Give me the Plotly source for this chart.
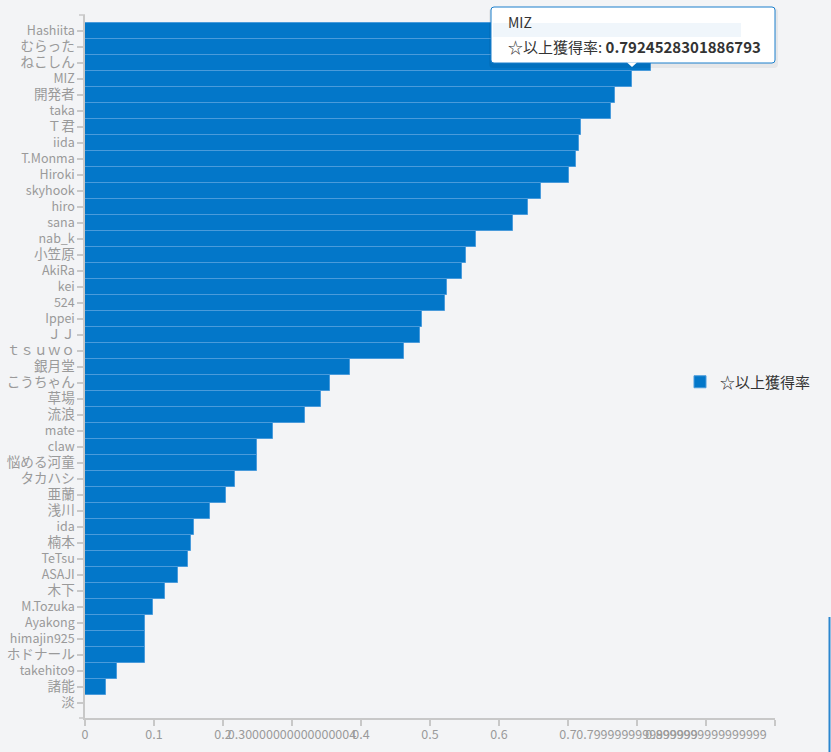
import re
import plotly.graph_objects as go

# ---- data ----
names = ["Hashiita", "むらった", "ねこしん", "MIZ", "開発者", "taka", "Ｔ君", "iida", "T.Monma", "Hiroki",
         "skyhook", "hiro", "sana", "nab_k", "小笠原", "AkiRa", "kei", "524", "Ippei", "ＪＪ",
         "ｔｓｕｗｏ", "銀月堂", "こうちゃん", "草場", "流浪", "mate", "claw", "悩める河童", "タカハシ", "亜蘭",
         "浅川", "ida", "楠本", "TeTsu", "ASAJI", "木下", "M.Tozuka", "Ayakong", "himajin925", "ホドナール",
         "takehito9", "諸能", "淡"]
rates = [0.951, 0.87, 0.82, 0.7924528301886793, 0.768, 0.763, 0.719, 0.7155, 0.7116, 0.701,
         0.6604, 0.6425, 0.6208, 0.5671, 0.5527, 0.546, 0.524, 0.522, 0.4884, 0.486,
         0.4619, 0.3845, 0.355, 0.3425, 0.3184, 0.2729, 0.2497, 0.2497, 0.2179, 0.2048,
         0.1816, 0.158, 0.1536, 0.1498, 0.1353, 0.116, 0.098, 0.0865, 0.0865, 0.0865,
         0.047, 0.031, 0.0]
series_name = "☆以上獲得率"
x_tick_vals = [0, 0.1, 0.2, 0.30000000000000004, 0.4, 0.5, 0.6, 0.7, 0.7999999999999999,
               0.8999999999999999, 0.9999999999999999]
x_tick_text = ["0", "0.1", "0.2", "0.30000000000000004", "0.4", "0.5", "0.6", "0.7",
               "0.7999999999999999", "0.8999999999999999", "0.9999999999999999"]
tooltip_name = "MIZ"
tooltip_value = "0.7924528301886793"

# ---- layout geometry (page pixels; body margin removed in the page) ----
W, H = 831, 752
L, R, T, B = 85, 775, 15, 718
PW, PH = R - L, B - T

def px(x):
    return (x - L) / PW

def py(y):
    return (B - y) / PH

FONT = "Noto Sans CJK JP, Source Sans Pro, sans-serif"
BG = "#f3f4f6"
BAR = "#0377c9"
BAR_LINE = "#4a9bdb"
AXIS = "#c8c8c8"
TICKFONT = "#9a9a9a"

# wide (CJK / full-width) labels render a bit larger in the reference
wide = re.compile(r"[\u3000-\u9fff\uff00-\uffef]")
y_tick_text = [f'<span style="font-size:13.6px">{s}</span>' if wide.search(s) else s for s in names]

n = len(names)
pad = 7.5 / 16.0

fig = go.Figure()
fig.add_trace(go.Bar(
    x=rates, y=names, orientation="h", name=series_name,
    marker=dict(color=BAR, line=dict(color=BAR_LINE, width=1)),
    showlegend=True, hoverinfo="skip",
))

shapes = []
# outer ticks of the y axis (top and bottom)
for yy in (T, B):
    shapes.append(dict(type="line", xref="paper", yref="paper",
                       x0=px(L - 6), x1=px(L), y0=py(yy), y1=py(yy),
                       line=dict(color=AXIS, width=1.5)))

def rrect(x0, y0, x1, y1, r):
    pts = (f"M {px(x0 + r)},{py(y0)} L {px(x1 - r)},{py(y0)} "
           f"Q {px(x1)},{py(y0)} {px(x1)},{py(y0 + r)} "
           f"L {px(x1)},{py(y1 - r)} Q {px(x1)},{py(y1)} {px(x1 - r)},{py(y1)} "
           f"L {px(x0 + r)},{py(y1)} Q {px(x0)},{py(y1)} {px(x0)},{py(y1 - r)} "
           f"L {px(x0)},{py(y0 + r)} Q {px(x0)},{py(y0)} {px(x0 + r)},{py(y0)} Z")
    return pts

# tooltip shadow
shapes.append(dict(type="path", xref="paper", yref="paper", layer="above",
                   path=rrect(489, 8, 778, 68, 4), fillcolor="rgba(0,0,0,0.05)",
                   line=dict(width=0)))
# tooltip box
shapes.append(dict(type="path", xref="paper", yref="paper", layer="above",
                   path=rrect(491, 7, 775, 63, 3), fillcolor="white",
                   line=dict(color="#1a7fcc", width=1)))
# faint strip inside tooltip
shapes.append(dict(type="rect", xref="paper", yref="paper", layer="above",
                   x0=px(493), x1=px(741), y0=py(23), y1=py(37),
                   fillcolor="#f0f6fb", line=dict(width=0)))
# tooltip pointer
shapes.append(dict(type="path", xref="paper", yref="paper", layer="above",
                   path=f"M {px(627)},{py(62.5)} L {px(637)},{py(62.5)} L {px(632)},{py(67)} Z",
                   fillcolor="white", line=dict(width=0)))
# blue line at far right edge
shapes.append(dict(type="line", xref="paper", yref="paper",
                   x0=px(829.5), x1=px(829.5), y0=py(617), y1=py(752),
                   line=dict(color="#2a86cf", width=2)))

annotations = [
    dict(xref="paper", yref="paper", x=px(506), y=py(22), xanchor="left", yanchor="middle",
         text=tooltip_name, showarrow=False, font=dict(family=FONT, size=14, color="#333333")),
    dict(xref="paper", yref="paper", x=px(506), y=py(47), xanchor="left", yanchor="middle",
         text=f"{series_name}: <b>{tooltip_value}</b>", showarrow=False,
         font=dict(family=FONT, size=15, color="#333333")),
]

fig.update_layout(
    width=W, height=H,
    margin=dict(l=L, r=W - R, t=T, b=H - B, pad=0, autoexpand=False),
    paper_bgcolor=BG, plot_bgcolor=BG,
    font=dict(family=FONT, size=12, color=TICKFONT),
    bargap=0,
    xaxis=dict(range=[0, 1.0], tickmode="array", tickvals=x_tick_vals, ticktext=x_tick_text,
               tickangle=0, automargin=False, ticklabelstandoff=-2,
               showgrid=False, zeroline=False, showline=True, linecolor=AXIS, linewidth=1.5,
               ticks="outside", ticklen=6, tickcolor=AXIS, tickwidth=1.5,
               tickfont=dict(family=FONT, size=12.5, color=TICKFONT), fixedrange=True),
    yaxis=dict(type="category", categoryorder="array", categoryarray=names,
               tickmode="array", tickvals=names, ticktext=y_tick_text, automargin=False,
               range=[n - 0.5 + pad, -0.5 - pad],
               showgrid=False, zeroline=False, showline=True, linecolor=AXIS, linewidth=1.5,
               ticks="outside", ticklen=6, tickcolor=AXIS, tickwidth=1.5,
               tickfont=dict(family=FONT, size=12.5, color=TICKFONT), fixedrange=True),
    legend=dict(x=px(680), y=py(382), xanchor="left", yanchor="middle",
                bgcolor="rgba(0,0,0,0)", font=dict(family=FONT, size=15, color="#333333"),
                itemwidth=30),
    shapes=shapes,
    annotations=annotations,
    hovermode=False,
)

fig.write_html("out.html", config={"displayModeBar": False},
               post_script="document.body.style.margin='0';document.body.style.background='#f3f4f6';")
